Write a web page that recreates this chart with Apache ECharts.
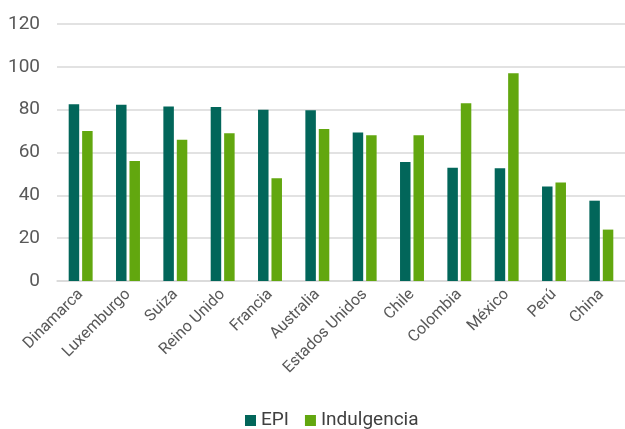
<!DOCTYPE html>
<html>
<head>
<meta charset="utf-8">
<script src="https://cdn.jsdelivr.net/npm/echarts@6/dist/echarts.min.js"></script>
<style>html,body{margin:0;padding:0;background:#fff;}#c{width:625px;height:429px;}</style>
</head>
<body>
<div id="c"></div>
<script>
const categories = ['Dinamarca','Luxemburgo','Suiza','Reino Unido','Francia','Australia','Estados Unidos','Chile','Colombia','México','Perú','China'];
const epi = [82.5, 82.3, 81.5, 81.3, 80.0, 79.7, 69.3, 55.6, 52.9, 52.6, 44.1, 37.5];
const indulgencia = [70, 56, 66, 69, 48, 71, 68, 68, 83, 97, 46, 24];
const yTicks = { min: 0, max: 120, interval: 20 };

const FONT = 'Roboto, sans-serif';
const chart = echarts.init(document.getElementById('c'));
chart.setOption({
  animation: false,
  textStyle: { fontFamily: FONT },
  grid: { left: 57, top: 24, width: 577, bottom: 148, containLabel: false },
  legend: {
    top: 406, left: 240, itemWidth: 11, itemHeight: 11, itemGap: 16,
    icon: 'rect',
    textStyle: { fontFamily: FONT, fontSize: 19, color: '#404040' },
    data: ['EPI', 'Indulgencia']
  },
  xAxis: {
    type: 'category', data: categories,
    axisLine: { lineStyle: { color: '#d9d9d9', width: 1.5 } },
    axisTick: { show: false },
    axisLabel: { rotate: 45, interval: 0, fontFamily: FONT, fontSize: 16, color: '#595959', margin: 11 }
  },
  yAxis: {
    type: 'value', min: yTicks.min, max: yTicks.max, interval: yTicks.interval,
    axisLine: { show: false }, axisTick: { show: false },
    splitLine: { lineStyle: { color: '#d9d9d9', width: 1.5 } },
    axisLabel: { fontFamily: FONT, fontSize: 19, color: '#595959', margin: 17 }
  },
  series: [
    { name: 'EPI', type: 'bar', data: epi, barWidth: 10.5, barGap: '28%', itemStyle: { color: '#02665a' } },
    { name: 'Indulgencia', type: 'bar', data: indulgencia, barWidth: 10.5, itemStyle: { color: '#62a70f' } }
  ]
});
</script>
</body>
</html>
